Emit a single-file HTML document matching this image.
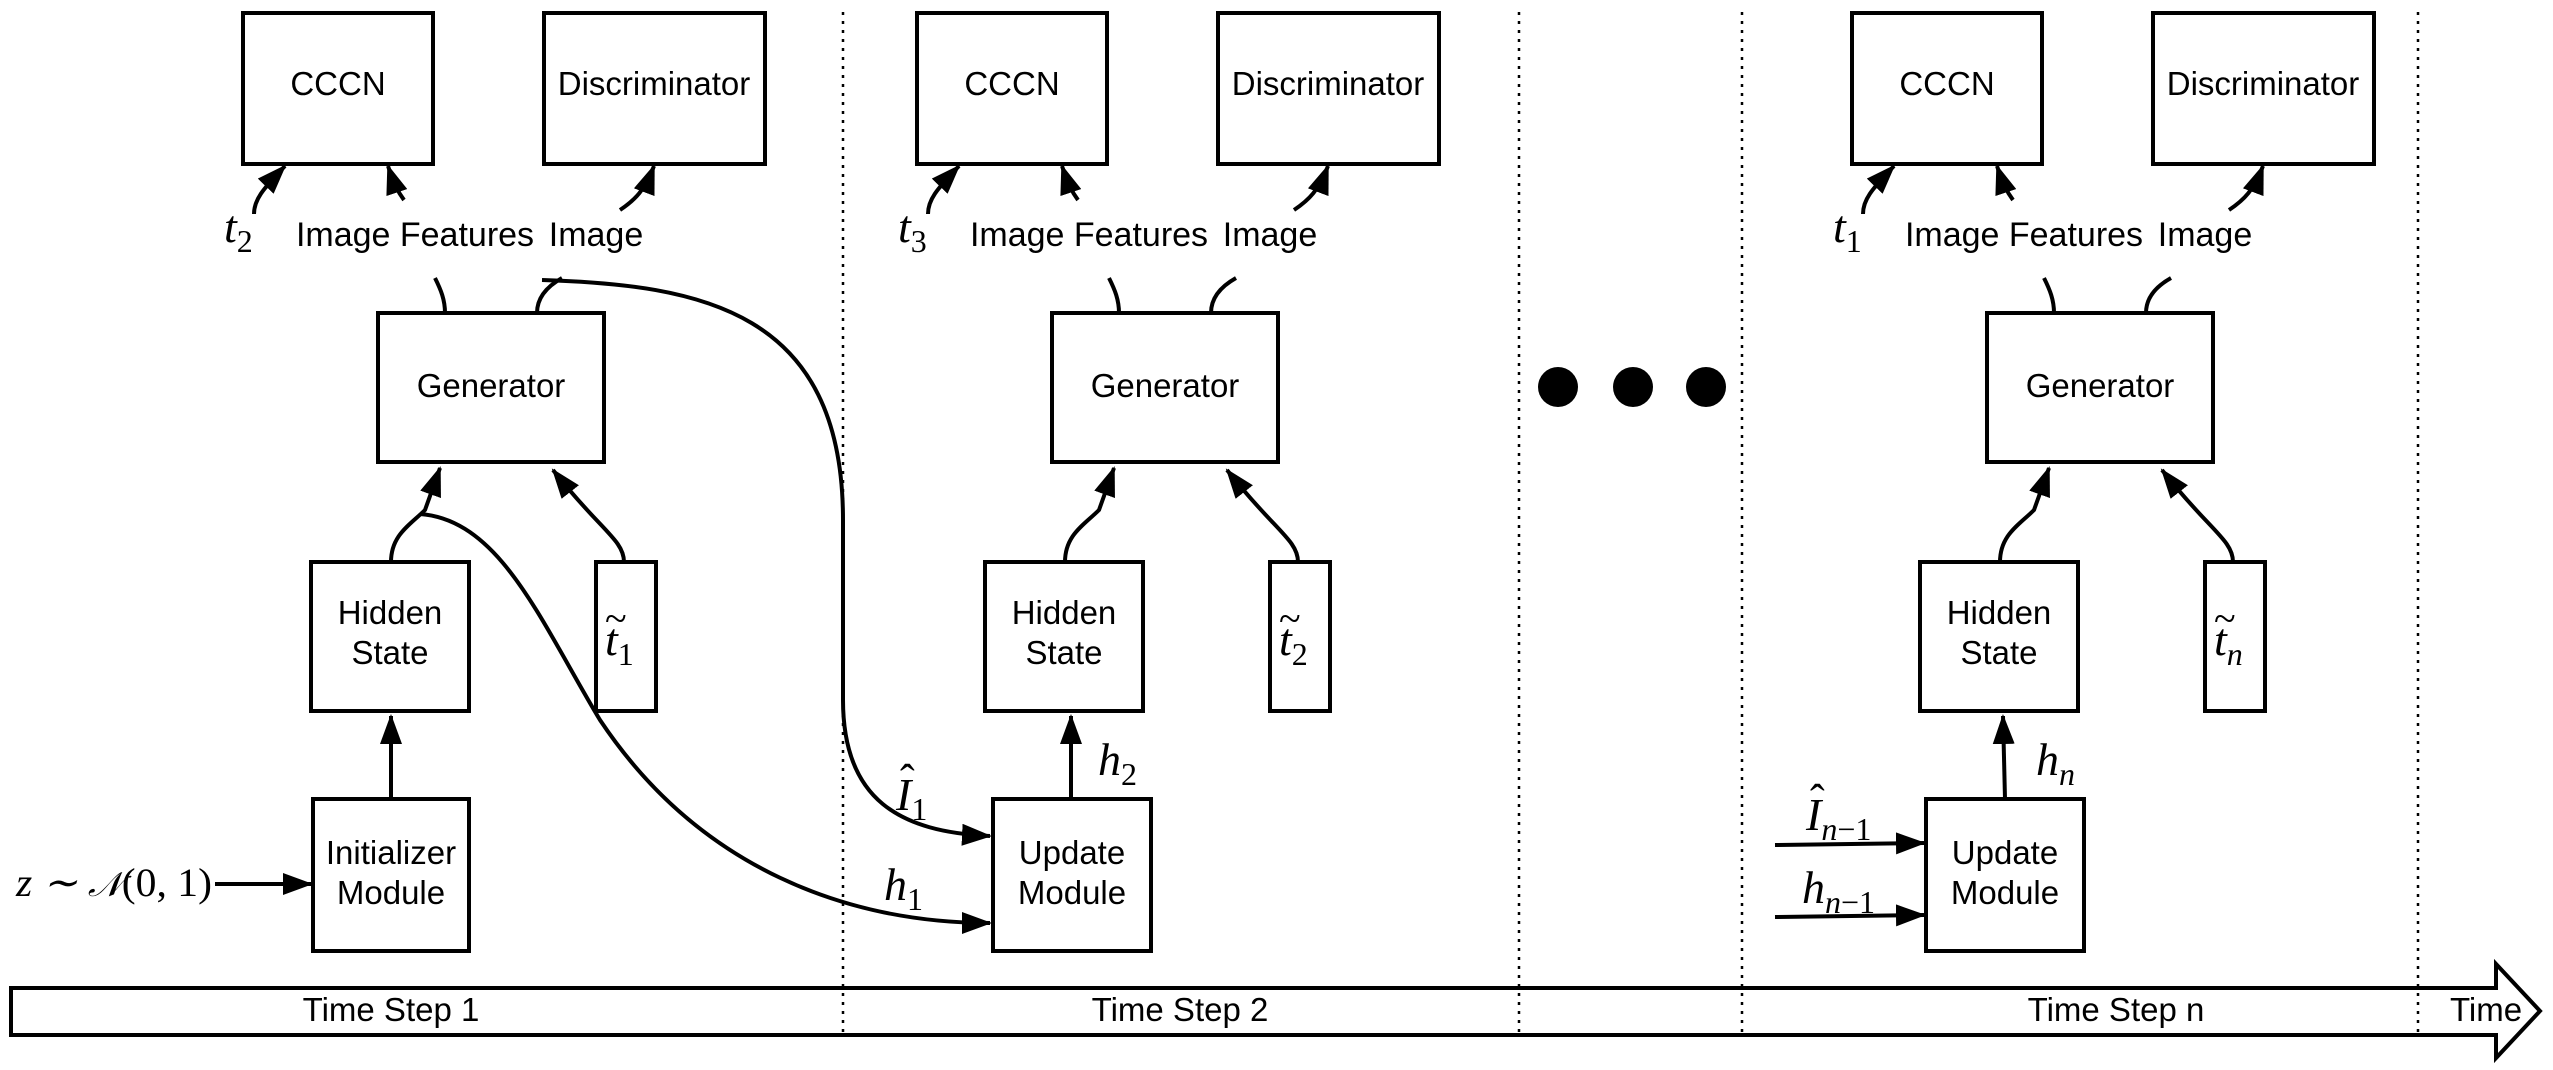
<!DOCTYPE html>
<html><head><meta charset="utf-8"><style>
html,body{margin:0;padding:0;background:#fff;}
svg{display:block;}
.b{font-family:"Liberation Sans",sans-serif;font-size:33px;fill:#000;text-anchor:middle;}
.m{font-family:"Liberation Serif",serif;font-style:italic;font-size:46px;fill:#000;}
.s{font-family:"Liberation Serif",serif;font-size:32px;font-style:normal;}
.si{font-family:"Liberation Serif",serif;font-size:32px;font-style:italic;}
.tl{font-family:"Liberation Serif",serif;font-size:40px;fill:#000;}
.ht{font-family:"Liberation Serif",serif;font-size:44px;fill:#000;}
</style></head><body>
<svg width="2553" height="1070" viewBox="0 0 2553 1070" xmlns="http://www.w3.org/2000/svg">
<defs>
<marker id="a" markerUnits="userSpaceOnUse" markerWidth="30" markerHeight="22" refX="28" refY="11" orient="auto">
<path d="M0,0 L30,11 L0,22 Z" fill="#000"/></marker>
<g id="top" fill="none" stroke="#000" stroke-width="4">
<rect x="243" y="13" width="190" height="151"/>
<rect x="544" y="13" width="221" height="151"/>
<rect x="378" y="313" width="226" height="149"/>
<rect x="311" y="562" width="158" height="149"/>
<rect x="596" y="562" width="60" height="149"/>
<path d="M445,313 C445,300 441,290 435,278"/>
<path d="M404,200 C398,192 394,184 388,166" marker-end="url(#a)"/>
<path d="M537,313 C537,298 546,287 562,278"/>
<path d="M620,210 C635,200 645,190 654,166" marker-end="url(#a)"/>
<path d="M254,214 C254,200 262,190 285,166" marker-end="url(#a)"/>
<path d="M391,562 C391,535 410,525 425,510 L440,468" marker-end="url(#a)"/>
<path d="M624,562 C624,540 600,530 553,470" marker-end="url(#a)"/>
</g>
<g id="toptext">
<text class="b" x="338" y="95">CCCN</text>
<text class="b" x="654" y="95">Discriminator</text>
<text class="b" x="491" y="397">Generator</text>
<text class="b" x="390" y="624">Hidden</text>
<text class="b" x="390" y="664">State</text>
<text class="b" x="415" y="246" style="font-size:34px">Image Features</text>
<text class="b" x="596" y="246" style="font-size:34px">Image</text>
</g>
</defs>

<g stroke="#000" stroke-width="2.5" stroke-dasharray="3,6">
<line x1="843" y1="12" x2="843" y2="1038"/>
<line x1="1519" y1="12" x2="1519" y2="1038"/>
<line x1="1742" y1="12" x2="1742" y2="1038"/>
<line x1="2418" y1="12" x2="2418" y2="1038"/>
</g>

<path d="M11,988 L2496,988 L2496,964 L2540,1011 L2496,1058 L2496,1035 L11,1035 Z" fill="none" stroke="#000" stroke-width="4"/>
<text class="b" x="391" y="1021">Time Step 1</text>
<text class="b" x="1180" y="1021">Time Step 2</text>
<text class="b" x="2116" y="1021">Time Step n</text>
<text class="b" x="2486" y="1021">Time</text>

<!-- step 1 -->
<use href="#top"/><use href="#toptext"/>
<text class="m" x="224" y="242">t<tspan class="s" dy="10">2</tspan></text>
<text class="m" x="605" y="655">t<tspan class="s" dy="10">1</tspan></text>
<text class="tl" x="605" y="632">~</text>
<g fill="none" stroke="#000" stroke-width="4">
<rect x="313" y="799" width="156" height="152"/>
<path d="M391,799 L391,716" marker-end="url(#a)"/>
<path d="M215,884 L311,884" marker-end="url(#a)"/>
<path d="M542,280 C700,285 843,310 843,520 L843,700 C843,800 900,832 990,836" marker-end="url(#a)"/>
<path d="M420,514 C500,520 540,620 600,720 C700,870 850,923 990,923" marker-end="url(#a)"/>
</g>
<text class="b" x="391" y="864">Initializer</text>
<text class="b" x="391" y="904">Module</text>
<text class="m" x="16" y="896" style="font-size:40px" textLength="196" lengthAdjust="spacingAndGlyphs">z ∼ <tspan style="font-family:'DejaVu Serif',serif;font-size:34px">𝒩</tspan><tspan style="font-style:normal">(0, 1)</tspan></text>

<!-- step 2 -->
<g transform="translate(674,0)"><use href="#top"/><use href="#toptext"/>
<text class="m" x="224" y="242">t<tspan class="s" dy="10">3</tspan></text>
<text class="m" x="605" y="655">t<tspan class="s" dy="10">2</tspan></text>
<text class="tl" x="605" y="632">~</text>
</g>
<g fill="none" stroke="#000" stroke-width="4">
<rect x="993" y="799" width="158" height="152"/>
<path d="M1071,799 L1071,716" marker-end="url(#a)"/>
</g>
<text class="b" x="1072" y="864">Update</text>
<text class="b" x="1072" y="904">Module</text>
<text class="m" x="1098" y="775">h<tspan class="s" dy="10">2</tspan></text>
<text class="m" x="896" y="810">I<tspan class="s" dy="10">1</tspan></text>
<text class="ht" x="900" y="795">ˆ</text>
<text class="m" x="884" y="900">h<tspan class="s" dy="10">1</tspan></text>

<circle cx="1558" cy="387" r="20"/>
<circle cx="1633" cy="387" r="20"/>
<circle cx="1706" cy="387" r="20"/>

<!-- step n -->
<g transform="translate(1609,0)"><use href="#top"/><use href="#toptext"/>
<text class="m" x="224" y="242">t<tspan class="s" dy="10">1</tspan></text>
<text class="m" x="605" y="655">t<tspan class="si" dy="10">n</tspan></text>
<text class="tl" x="605" y="632">~</text>
</g>
<g fill="none" stroke="#000" stroke-width="4">
<rect x="1926" y="799" width="158" height="152"/>
<path d="M2005,799 L2003,716" marker-end="url(#a)"/>
<path d="M1775,845 L1924,843" marker-end="url(#a)"/>
<path d="M1775,917 L1924,915" marker-end="url(#a)"/>
</g>
<text class="b" x="2005" y="864">Update</text>
<text class="b" x="2005" y="904">Module</text>
<text class="m" x="2036" y="775">h<tspan class="si" dy="10">n</tspan></text>
<text class="m" x="1806" y="830">I<tspan class="si" dy="10">n</tspan><tspan class="s">−1</tspan></text>
<text class="ht" x="1810" y="815">ˆ</text>
<text class="m" x="1802" y="903">h<tspan class="si" dy="10">n</tspan><tspan class="s">−1</tspan></text>
</svg>
</body></html>
